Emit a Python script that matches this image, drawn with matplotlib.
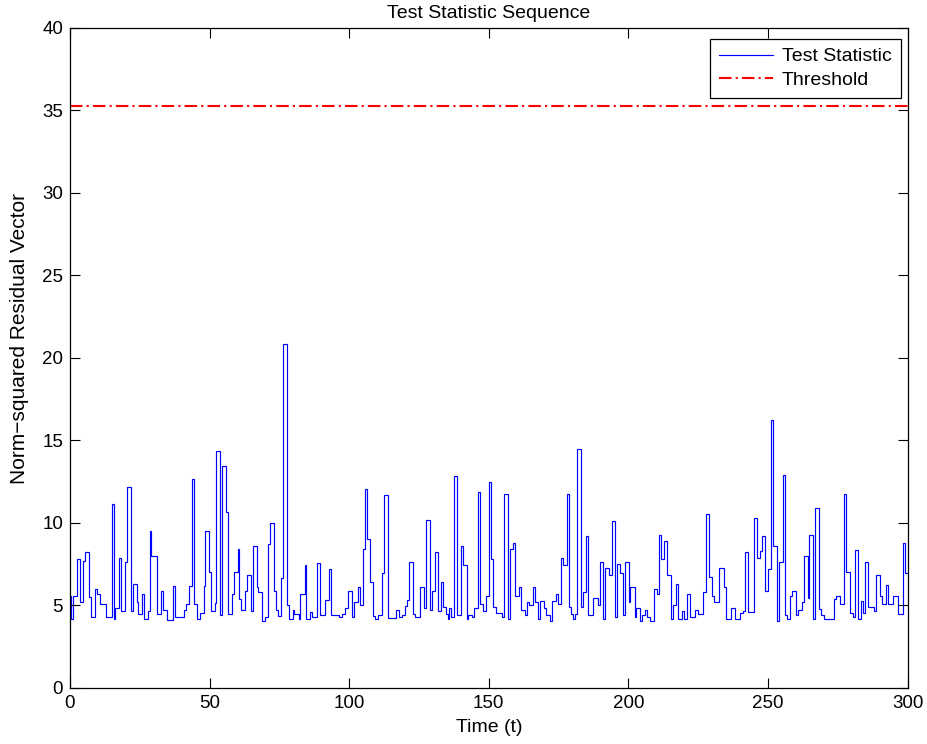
import matplotlib
matplotlib.use("Agg")
import matplotlib.pyplot as plt
import numpy as np

plt.rcParams['font.family'] = ['Liberation Sans', 'DejaVu Sans']

# Step start times of the test statistic
step_times = [
    0.0, 0.3, 1.1, 2.6, 3.5, 4.7, 5.3, 6.8, 7.4, 8.8, 9.8, 10.9, 12.8, 14.9, 15.6, 16.3, 17.5, 18.4, 19.8, 20.4,
    21.7, 22.4, 23.9, 24.5, 25.7, 26.5, 27.9, 28.5, 29.1, 31.3, 32.7, 33.4, 34.6, 37.0, 37.5, 40.8, 41.6, 42.6, 43.7, 44.4,
    45.6, 46.5, 47.9, 48.4, 49.8, 50.5, 51.8, 52.4, 53.8, 54.4, 56.0, 56.6, 58.0, 58.7, 60.1, 60.7, 61.3, 62.8, 63.5, 64.7,
    65.4, 66.9, 67.5, 68.9, 69.7, 70.9, 71.6, 73.0, 73.7, 74.4, 75.6, 76.4, 77.8, 78.5, 79.8, 80.4, 81.9, 82.5, 84.0, 84.6,
    85.8, 86.6, 88.5, 89.4, 91.4, 92.6, 93.5, 96.5, 97.3, 98.5, 99.5, 100.9, 101.6, 103.1, 103.7, 104.9, 105.7, 106.4, 107.6, 108.5,
    109.4, 110.5, 111.8, 112.4, 113.8, 116.6, 117.8, 119.0, 120.0, 120.7, 121.3, 122.8, 123.6, 125.4, 126.7, 127.5, 128.9, 129.6, 130.9, 131.7,
    133.0, 133.7, 134.5, 135.3, 135.9, 136.5, 137.7, 138.5, 140.1, 140.8, 142.1, 142.7, 143.9, 144.6, 146.0, 146.9, 148.1, 148.9, 150.2, 150.9,
    151.4, 152.6, 154.6, 155.6, 157.0, 157.6, 158.8, 159.5, 160.9, 161.5, 163.0, 163.7, 164.5, 165.7, 166.4, 167.7, 168.5, 169.9, 170.6, 171.9,
    172.6, 174.1, 174.7, 175.9, 176.6, 178.0, 178.7, 179.4, 180.1, 180.9, 181.5, 183.0, 183.7, 184.8, 185.6, 187.5, 189.0, 189.8, 191.0, 191.6,
    193.0, 194.0, 195.2, 196.1, 197.0, 197.9, 198.9, 200.2, 200.7, 202.2, 202.8, 204.2, 204.8, 206.0, 206.7, 207.9, 209.0, 210.3, 211.1, 211.7,
    212.9, 213.9, 215.1, 215.9, 217.2, 217.9, 219.1, 219.8, 221.0, 222.0, 223.9, 225.1, 226.6, 227.8, 228.8, 230.0, 230.6, 232.3, 234.4, 235.0,
    236.6, 238.2, 240.1, 241.0, 241.6, 243.0, 245.1, 246.0, 247.2, 247.9, 249.1, 249.9, 251.1, 251.9, 253.2, 254.1, 255.3, 256.1, 256.7, 257.9,
    258.6, 260.0, 260.6, 262.2, 262.8, 264.2, 264.8, 266.2, 267.0, 268.4, 269.0, 270.2, 273.8, 274.4, 275.8, 277.3, 277.9, 279.3, 280.3, 281.2,
    282.1, 283.3, 284.0, 284.7, 285.7, 287.8, 288.7, 290.1, 290.8, 292.3, 292.9, 294.9, 296.4, 298.4, 299.1,
]
# Level held from each step start time
step_values = [
    5.6, 4.2, 5.6, 7.8, 5.2, 7.7, 8.25, 5.5, 4.3, 6.0, 5.7, 5.1, 4.3, 11.15, 4.2, 4.85, 7.9, 4.65, 7.65, 12.2,
    4.65, 6.3, 5.2, 4.5, 5.7, 4.2, 4.65, 9.5, 8.0, 4.5, 5.9, 4.75, 4.15, 6.2, 4.3, 4.75, 5.1, 6.2, 12.65, 5.1,
    4.2, 4.55, 6.2, 9.5, 7.0, 4.65, 5.15, 14.35, 4.4, 13.45, 10.65, 4.5, 5.7, 7.0, 8.4, 5.4, 4.75, 5.9, 6.85, 4.65,
    8.6, 6.15, 5.8, 4.05, 4.3, 8.7, 10.0, 5.9, 4.75, 4.35, 6.65, 20.85, 5.05, 4.2, 4.75, 4.5, 4.2, 5.7, 7.45, 4.2,
    4.6, 4.3, 7.6, 4.4, 5.35, 7.2, 4.4, 4.3, 4.5, 4.85, 5.9, 4.3, 5.2, 6.15, 5.0, 8.45, 12.05, 9.05, 6.4, 4.35,
    4.2, 4.4, 6.95, 11.7, 4.25, 4.75, 4.3, 4.45, 4.95, 5.35, 7.65, 4.5, 4.3, 6.15, 4.85, 10.2, 4.75, 5.9, 8.25, 4.65,
    6.4, 4.9, 4.5, 4.2, 4.85, 4.3, 12.85, 4.4, 8.6, 7.45, 4.2, 4.4, 4.3, 4.85, 11.9, 5.1, 4.65, 5.6, 12.5, 7.8,
    4.9, 4.55, 4.3, 11.75, 4.2, 8.45, 8.8, 5.6, 6.15, 4.75, 4.4, 5.2, 5.0, 6.15, 5.2, 4.2, 5.3, 4.85, 4.4, 4.05,
    5.3, 5.7, 5.1, 7.9, 7.45, 11.75, 4.9, 4.5, 4.2, 4.5, 14.5, 4.9, 5.8, 9.2, 4.4, 5.45, 5.0, 7.65, 4.2, 7.25,
    6.85, 10.1, 4.3, 7.5, 6.95, 4.4, 7.65, 5.2, 6.15, 4.3, 4.85, 4.05, 4.4, 4.7, 4.3, 4.05, 6.0, 5.7, 9.3, 7.8,
    8.9, 6.85, 4.2, 5.0, 6.3, 4.2, 4.65, 4.2, 5.7, 4.3, 4.75, 4.5, 5.8, 10.55, 6.75, 5.6, 5.2, 7.3, 6.15, 4.2,
    4.85, 4.2, 4.55, 4.65, 8.25, 4.6, 10.3, 7.9, 8.3, 9.2, 5.9, 7.2, 16.25, 8.6, 4.05, 7.65, 12.9, 4.45, 4.2, 5.6,
    5.9, 4.4, 4.75, 5.2, 8.0, 5.45, 9.3, 4.2, 10.9, 4.8, 4.4, 4.2, 5.4, 5.6, 5.1, 11.75, 7.05, 4.55, 4.3, 8.35,
    4.2, 5.3, 4.55, 7.65, 4.9, 4.65, 6.85, 5.6, 5.1, 6.25, 5.1, 5.6, 4.5, 8.8, 6.95,
]
t_end = 300.0
threshold = 35.25

assert len(step_times) == len(step_values), (len(step_times), len(step_values))

fig = plt.figure(figsize=(9.28, 7.44), dpi=100)
ax = fig.add_axes([0.0754, 0.0753, 0.9026, 0.8871])

edges = np.array(step_times + [t_end])
ax.stairs(step_values, edges, color='blue', linewidth=0.85, label='Test Statistic', baseline=None)
ax.axhline(threshold, color='red', linestyle=(0, (6, 2, 1, 2)), linewidth=1.5, label='Threshold')

ax.set_xlim(0, 300)
ax.set_ylim(0, 40)
ax.set_xticks([0, 50, 100, 150, 200, 250, 300])
ax.set_yticks([0, 5, 10, 15, 20, 25, 30, 35, 40])
ax.tick_params(direction='in', length=7, width=0.8, top=True, right=True, labelsize=13.5, pad=5)
for s in ax.spines.values():
    s.set_linewidth(0.9)

ax.set_title('Test Statistic Sequence', fontsize=14, pad=7)
ax.set_xlabel('Time (t)', fontsize=14, labelpad=5)
ax.set_ylabel('Norm\u2212squared Residual Vector', fontsize=15)
ax.yaxis.set_label_coords(-0.049, 0.53)

leg = ax.legend(loc='upper right', bbox_to_anchor=(0.9916, 0.9833), fontsize=14, fancybox=False,
                framealpha=1, edgecolor='black', handlelength=2.8, borderaxespad=0.0,
                borderpad=0.45, labelspacing=0.3, handletextpad=0.45)
leg.get_frame().set_linewidth(0.9)

fig.savefig('out.png', dpi=100)
